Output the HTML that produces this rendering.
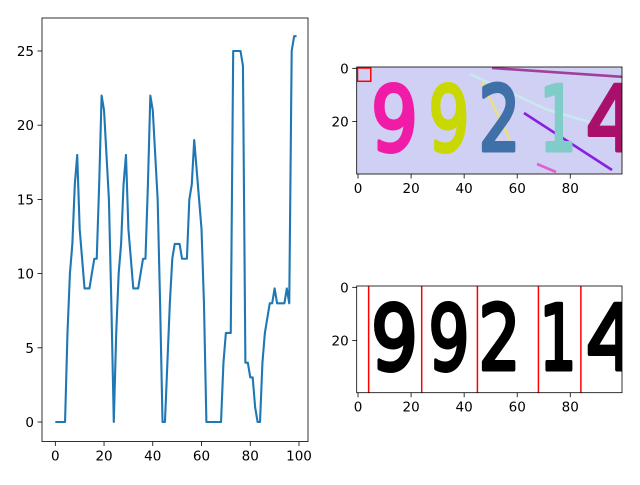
<!DOCTYPE html>
<html><head><meta charset="utf-8"><style>
html,body{margin:0;padding:0;background:#fff;}
svg text{font-family:"DejaVu Sans","Liberation Sans",sans-serif;font-size:13.5px;fill:#000;}
svg text.dg{font-family:"DejaVu Sans","Liberation Sans",sans-serif;font-weight:normal;font-size:90px;stroke-width:4px;stroke-linejoin:round;}
</style></head><body>
<svg id="fig" width="640" height="480" xmlns="http://www.w3.org/2000/svg">
<rect width="640" height="480" fill="#fff"/>
<defs>
<clipPath id="clipTop"><rect x="356.7" y="67" width="265.3" height="107"/></clipPath>
<clipPath id="clipBot"><rect x="356.7" y="286" width="265.3" height="106.7"/></clipPath>
</defs>
<g id="lineAx"></g>
<g id="topImg" clip-path="url(#clipTop)">
<rect x="356.7" y="67" width="265.3" height="107" fill="#d0d0f4"/>
<line x1="492" y1="68" x2="625" y2="77" stroke="#a0409c" stroke-width="2.6"/>
<line x1="470" y1="74" x2="548" y2="110" stroke="#c8e8f0" stroke-width="2.6"/>
<line x1="548" y1="110" x2="600" y2="125" stroke="#c8e8f0" stroke-width="2.6"/>
<line x1="482" y1="82" x2="510" y2="140" stroke="#e8e088" stroke-width="2.6"/>
<line x1="524" y1="113" x2="612" y2="170" stroke="#8820e0" stroke-width="2.6"/>
<line x1="537" y1="164" x2="556" y2="172" stroke="#e060d0" stroke-width="2.6"/>
<text class="dg" x="394.5" y="150.5" text-anchor="middle" textLength="47" lengthAdjust="spacingAndGlyphs" style="fill:#f01ca8;stroke:#f01ca8">9</text>
<text class="dg" x="449" y="150.5" text-anchor="middle" textLength="41" lengthAdjust="spacingAndGlyphs" style="fill:#c8d800;stroke:#c8d800">9</text>
<text class="dg" x="499.5" y="150.5" text-anchor="middle" textLength="42" lengthAdjust="spacingAndGlyphs" style="fill:#4070a8;stroke:#4070a8">2</text>
<text class="dg" x="558" y="150.5" text-anchor="middle" textLength="37" lengthAdjust="spacingAndGlyphs" style="fill:#80ccc8;stroke:#80ccc8">1</text>
<text class="dg" x="612" y="150.5" text-anchor="middle" textLength="53" lengthAdjust="spacingAndGlyphs" style="fill:#a8106c;stroke:#a8106c">4</text>
<rect x="357.5" y="68" width="13.3" height="13.3" fill="none" stroke="#ff0000" stroke-width="1.5"/>
</g>
<rect x="356.7" y="67" width="265.3" height="107" fill="none" stroke="#000" stroke-width="0.8"/>
<g id="botImg" clip-path="url(#clipBot)">
<rect x="356.7" y="286" width="265.3" height="106.7" fill="#fff"/>
<text class="dg" x="394.5" y="369.5" text-anchor="middle" textLength="47" lengthAdjust="spacingAndGlyphs" style="fill:#000;stroke:#000">9</text>
<text class="dg" x="449" y="369.5" text-anchor="middle" textLength="41" lengthAdjust="spacingAndGlyphs" style="fill:#000;stroke:#000">9</text>
<text class="dg" x="499.5" y="369.5" text-anchor="middle" textLength="42" lengthAdjust="spacingAndGlyphs" style="fill:#000;stroke:#000">2</text>
<text class="dg" x="558" y="369.5" text-anchor="middle" textLength="37" lengthAdjust="spacingAndGlyphs" style="fill:#000;stroke:#000">1</text>
<text class="dg" x="612" y="369.5" text-anchor="middle" textLength="53" lengthAdjust="spacingAndGlyphs" style="fill:#000;stroke:#000">4</text>
<g id="splits"></g>
</g>
<rect x="356.7" y="286" width="265.3" height="106.7" fill="none" stroke="#000" stroke-width="0.8"/>
<g id="imgTicks"></g>
</svg>
<script>
const xValues = [];
for (let i = 0; i < 100; i++) xValues.push(i);
const yValues = [0,0,0,0,0,6,10,12,16,18,13,11,9,9,9,10,11,11,16,22,21,18,15,8,0,
6,10,12,16,18,13,11,9,9,9,10,11,11,16,22,21,18,15,8,0,
0,4,8,11,12,12,12,11,11,11,15,16,19,17,15,13,8,0,0,0,0,0,0,0,
4,6,6,6,25,25,25,25,24,4,4,3,3,1,0,0,4,6,7,8,8,9,8,8,8,8,9,8,25,26,26];
const xTicks = [0,20,40,60,80,100];
const yTicks = [0,5,10,15,20,25];
const imgXTicks = [0,20,40,60,80];
const imgYTicks = [0,20];
const splitCols = [4,24,45,68,84];

const NS = "http://www.w3.org/2000/svg";
function mk(tag, attrs, parent){const e=document.createElementNS(NS,tag);for(const k in attrs)e.setAttribute(k,attrs[k]);parent.appendChild(e);return e;}

const L = {left:42, right:308, top:18, bottom:441.5};
const sx = v => 55.3 + v*2.437;
const sy = v => 422 - v*14.84;
const ax = document.getElementById('lineAx');
const path = mk('path',{d:xValues.map((x,i)=>(i?'L':'M')+sx(x).toFixed(2)+','+sy(yValues[i]).toFixed(2)).join(''),fill:'none',stroke:'#1f77b4','stroke-width':2.1,'stroke-linejoin':'round'},ax);


const frame = mk('rect',{x:L.left,y:L.top,width:L.right-L.left,height:L.bottom-L.top,fill:'none',stroke:'#000','stroke-width':0.8},ax);


xTicks.forEach(t=>{const x=sx(t);mk('line',{x1:x,y1:L.bottom,x2:x,y2:L.bottom+4.5,stroke:'#000','stroke-width':0.8},ax);
const tx=mk('text',{x:x,y:L.bottom+19,'text-anchor':'middle'},ax);tx.textContent=t;

});
yTicks.forEach(t=>{const y=sy(t);mk('line',{x1:L.left-4.5,y1:y,x2:L.left,y2:y,stroke:'#000','stroke-width':0.8},ax);
const tx=mk('text',{x:L.left-8,y:y+5,'text-anchor':'end'},ax);tx.textContent=t;

});

const ps = 2.653, ix = v => 356.7 + (v+0.5)*ps;
const sp = document.getElementById('splits');
splitCols.forEach(c=>{const l=mk('line',{x1:ix(c),y1:286,x2:ix(c),y2:393,stroke:'#ff0000','stroke-width':1.5},sp);

});
const it = document.getElementById('imgTicks');
[[67,174],[286,392.7]].forEach(([top,bot])=>{
 imgXTicks.forEach(t=>{const x=ix(t);mk('line',{x1:x,y1:bot,x2:x,y2:bot+4.5,stroke:'#000','stroke-width':0.8},it);
 const tx=mk('text',{x:x,y:bot+19,'text-anchor':'middle'},it);tx.textContent=t;
 
 });
 imgYTicks.forEach(t=>{const y=top+(t+0.5)*ps;mk('line',{x1:356.7-4.5,y1:y,x2:356.7,y2:y,stroke:'#000','stroke-width':0.8},it);
 const tx=mk('text',{x:356.7-8,y:y+5,'text-anchor':'end'},it);tx.textContent=t;
 
 });
});
</script>
</body></html>
